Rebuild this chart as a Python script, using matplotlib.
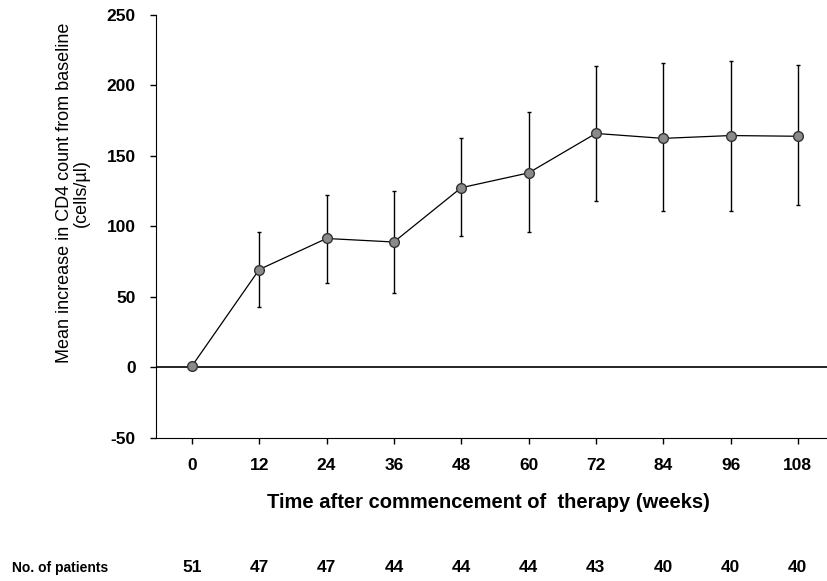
import matplotlib
matplotlib.use("Agg")
import matplotlib.pyplot as plt
import matplotlib.transforms as mtransforms
import numpy as np

plt.rcParams['font.family'] = ['Liberation Sans', 'DejaVu Sans']
plt.rcParams['axes.unicode_minus'] = False

weeks = [0, 12, 24, 36, 48, 60, 72, 84, 96, 108]
mean_increase = [1, 69.5, 91.5, 89, 127.5, 138, 166, 162.5, 164.5, 164]
upper = [1, 96, 122.5, 125.5, 162.5, 181.5, 213.5, 216, 217.5, 214.5]
lower = [1, 43, 60, 53, 93, 96, 118, 111, 111, 115]
n_patients = [51, 47, 47, 44, 44, 44, 43, 40, 40, 40]
yticks = [-50, 0, 50, 100, 150, 200, 250]

W, H = 827, 581
fig = plt.figure(figsize=(W / 100, H / 100), dpi=100)
ax = fig.add_axes([156 / W, 1 - 438 / H, (827 - 156) / W, (438 - 15) / H])

mean = np.array(mean_increase)
yerr = [mean - np.array(lower), np.array(upper) - mean]

ax.axhline(0, color='black', lw=1.2, zorder=1)
ax.errorbar(weeks, mean, yerr=yerr, fmt='none', ecolor='black', elinewidth=1.0,
            capsize=1.5, capthick=1.0, zorder=2)
ax.plot(weeks, mean, color='black', lw=0.9, marker='o', markersize=7,
        markerfacecolor='#8a8a8a', markeredgecolor='#333333', markeredgewidth=1.0, zorder=3)

ax.set_xlim(-6.4, 113.2)
ax.set_ylim(-50, 250)
ax.set_xticks(weeks)
ax.set_yticks(yticks)
ax.tick_params(axis='x', direction='out', length=4.5, width=1, labelsize=12.5, pad=10)
ax.tick_params(axis='y', direction='out', length=4.5, width=1, labelsize=12.5, pad=10)
for lab in ax.get_xticklabels() + ax.get_yticklabels():
    lab.set_fontweight('bold')

ax.spines['top'].set_visible(False)
ax.spines['right'].set_visible(False)

fig.text(488 / W, 1 - 503 / H, "Time after commencement of  therapy (weeks)",
         ha='center', va='center', fontsize=14.5, fontweight='bold')
fig.text(73 / W, 1 - 193 / H, "Mean increase in CD4 count from baseline\n(cells/\u00b5l)",
         ha='center', va='center', rotation=90, fontsize=13,
         linespacing=1.05)

trans = mtransforms.blended_transform_factory(ax.transData, fig.transFigure)
fig.text(12 / W, 1 - 568 / H, "No. of patients", ha='left', va='center',
         fontsize=10, fontweight='bold')
for w, n in zip(weeks, n_patients):
    ax.text(w, 1 - 567 / H, str(n), transform=trans, ha='center', va='center',
            fontsize=12.5, fontweight='bold', clip_on=False)

fig.savefig("out.png", dpi=100)
